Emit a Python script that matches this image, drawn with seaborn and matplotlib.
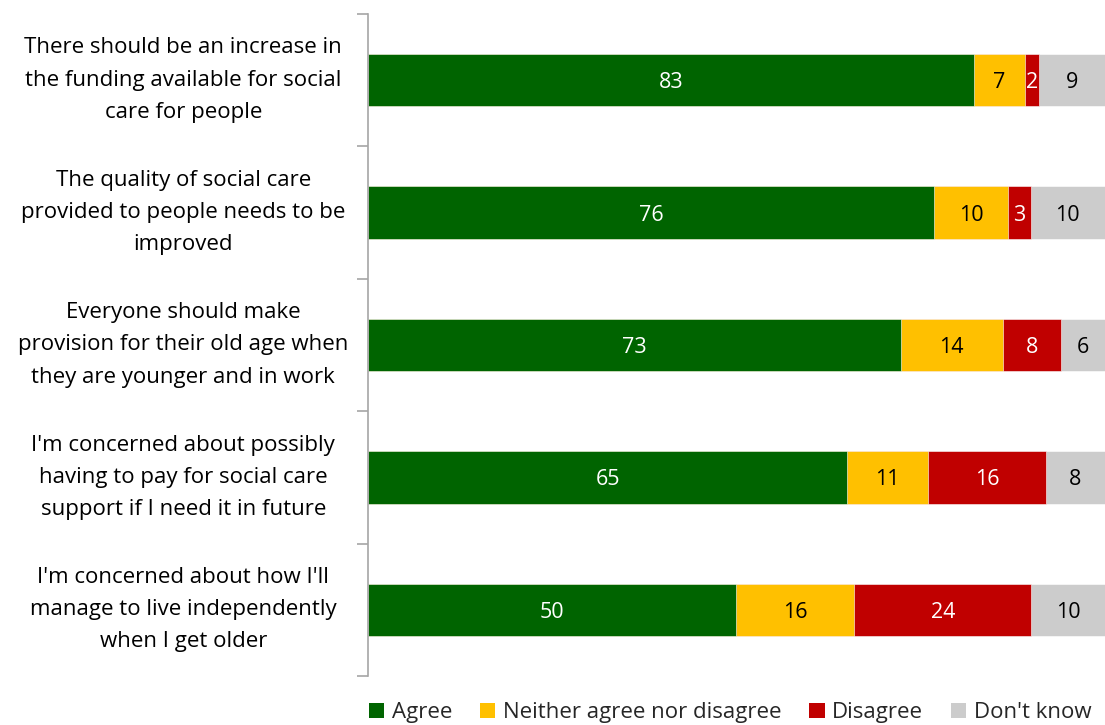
import matplotlib
matplotlib.use("Agg")
import matplotlib.pyplot as plt
from matplotlib.patches import Patch
import numpy as np
import pandas as pd
import seaborn as sns

statements = [
    "There should be an increase in\nthe funding available for social\ncare for people",
    "The quality of social care\nprovided to people needs to be\nimproved",
    "Everyone should make\nprovision for their old age when\nthey are younger and in work",
    "I'm concerned about possibly\nhaving to pay for social care\nsupport if I need it in future",
    "I'm concerned about how I'll\nmanage to live independently\nwhen I get older",
]
agree = [83, 76, 73, 65, 50]
neither = [7, 10, 14, 11, 16]
disagree = [2, 3, 8, 16, 24]
dont_know = [9, 10, 6, 8, 10]

series_names = ["Agree", "Neither agree nor disagree", "Disagree", "Don't know"]
series_colors = ["#006400", "#FFC000", "#C00000", "#CCCCCC"]
label_colors = ["white", "black", "white", "black"]

sns.set_theme(style="white")
plt.rcParams["font.family"] = ["Open Sans", "DejaVu Sans"]

values = np.array([agree, neither, disagree, dont_know], dtype=float)
shares = values / values.sum(axis=0) * 100
cumulative = np.cumsum(shares, axis=0)

fig = plt.figure(figsize=(11.05, 7.25), dpi=100)
ax = fig.add_axes([0.333, 0.0676, 0.667, 0.9131])

# stacked bars: draw cumulative totals from the outermost layer inwards
for i in reversed(range(len(series_names))):
    df = pd.DataFrame({"statement": statements, "value": cumulative[i]})
    sns.barplot(data=df, x="value", y="statement", orient="h", color=series_colors[i],
                saturation=1, width=0.395, edgecolor="white", linewidth=0.4, ax=ax)

# segment value labels
for i in range(len(series_names)):
    lefts = cumulative[i] - shares[i]
    for j in range(len(statements)):
        ax.text(lefts[j] + shares[i][j] / 2, j, f"{int(values[i][j])}",
                ha="center", va="center_baseline", fontsize=15.5, color=label_colors[i])

ax.set_xlim(0, 100)
ax.set_ylim(len(statements) - 0.5, -0.5)
ax.set_xlabel("")
ax.set_ylabel("")
ax.set_xticks([])

for side in ["top", "right", "bottom"]:
    ax.spines[side].set_visible(False)
ax.spines["left"].set_color("#A6A6A6")
ax.spines["left"].set_linewidth(1.2)

ax.tick_params(axis="y", which="major", left=False, length=0, pad=133,
               labelsize=16, labelcolor="black")
for lab in ax.get_yticklabels():
    lab.set_horizontalalignment("center")
    lab.set_verticalalignment("center")
    lab.set_multialignment("center")
    lab.set_linespacing(1.7)
ax.set_yticks(np.arange(-0.5, len(statements), 1.0), minor=True)
ax.tick_params(axis="y", which="minor", left=True, length=8, width=1.2,
               color="#A6A6A6", direction="out")

handles = [Patch(facecolor=c, edgecolor="none") for c in series_colors]
fig.legend(handles, series_names, loc="lower center", bbox_to_anchor=(0.661, -0.016), ncol=4,
           frameon=False, fontsize=16, handlelength=0.68, handleheight=0.68,
           handletextpad=0.35, columnspacing=1.25, borderaxespad=0.2)

fig.savefig("out.png", dpi=100)
